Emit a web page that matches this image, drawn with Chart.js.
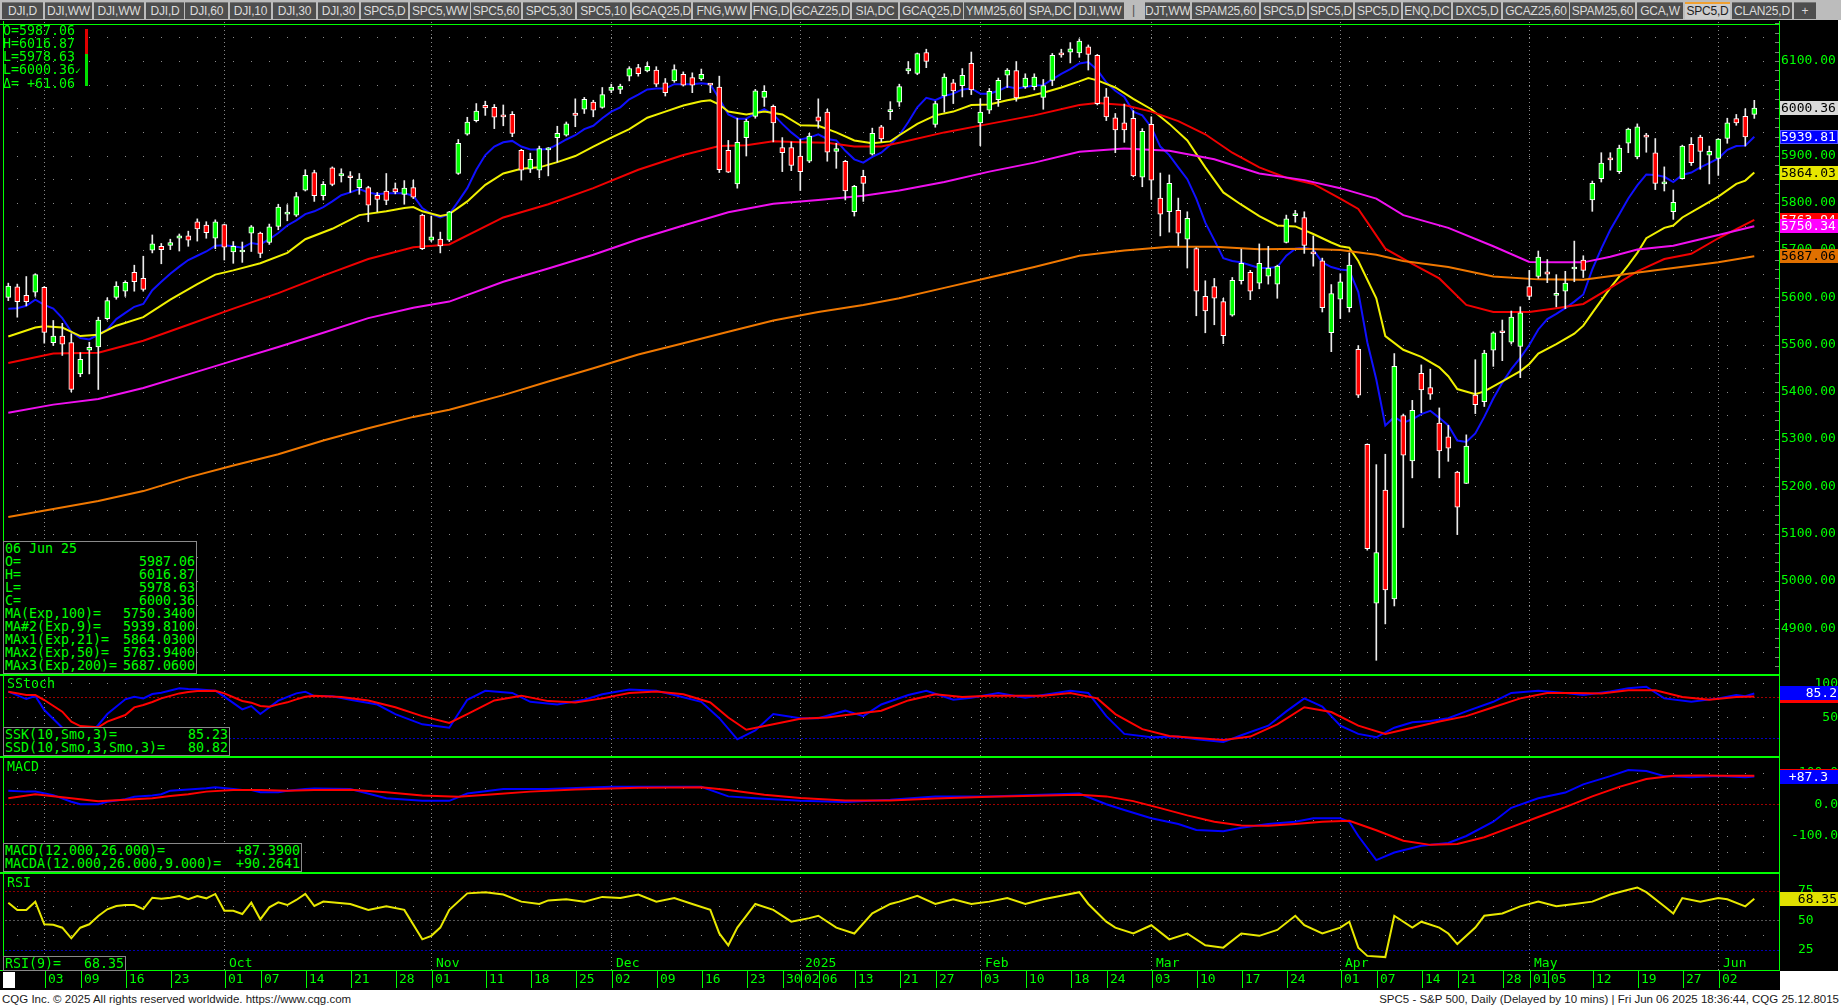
<!DOCTYPE html>
<html>
<head>
<meta charset="utf-8">
<script src="https://cdn.jsdelivr.net/npm/chart.js@4.4.1/dist/chart.umd.min.js"></script>
<style>
  html, body { margin: 0; padding: 0; }
  body { width: 1841px; height: 1008px; position: relative; background: #fff; overflow: hidden; }
  #tabbar { position: absolute; left: 0; top: 0; width: 1841px; height: 20px; background: #bcbcbc; }
  .tab { position: absolute; top: 2px; height: 17px; background: #4e4e4e; color: #dcdcdc; font: 12px "Liberation Sans", sans-serif;
         line-height: 16px; text-align: center; white-space: nowrap; overflow: hidden; border-top: 1px solid #777; box-sizing: border-box; letter-spacing: -0.2px; }
  .tab.on { background: #cdcdcd; color: #1e1e1e; border-top: 2px solid #f0a030; line-height: 15px; }
  #frame { position: absolute; left: 0; top: 20px; width: 1838px; height: 951px; background: #000; }
  #daterow { position: absolute; left: 0; top: 971px; width: 1780px; height: 19px; background: #000; }
  canvas { position: absolute; left: 0; }
  .mono { position: absolute; font-family: "DejaVu Sans Mono", monospace; font-size: 13.3px; color: #00ff00; line-height: 13px; white-space: pre; }
  .box { background: #000; border: 1px solid #8a8a8a; box-sizing: border-box; padding: 0 1px; }
  .row { display: flex; justify-content: space-between; }
  .foot { position: absolute; top: 993px; font: 11.5px "Liberation Sans", sans-serif; color: #1a1a1a; white-space: nowrap; }
</style>
</head>
<body>
<div id="tabbar"></div>
<div id="frame"></div>
<div id="daterow"></div>
<canvas id="price" width="1838" height="653" style="top:21px"></canvas>
<canvas id="stoch" width="1838" height="82" style="top:674px"></canvas>
<canvas id="macd" width="1838" height="116" style="top:756px"></canvas>
<canvas id="rsi" width="1838" height="118" style="top:872px"></canvas>

<div class="mono" id="ohlc" style="left:3px;top:24px"></div>
<div style="position:absolute;left:85px;top:29px;width:3px;height:25px;background:#e00000"></div>
<div style="position:absolute;left:85px;top:54px;width:3px;height:32px;background:#00e000"></div>
<div class="mono box" id="infoBox" style="left:3px;top:541px;width:194px;height:133px"></div>
<div class="mono" style="left:7px;top:677px">SStoch</div>
<div class="mono box" id="stochBox" style="left:3px;top:727px;width:227px;height:29px"></div>
<div class="mono" style="left:7px;top:760px">MACD</div>
<div class="mono box" id="macdBox" style="left:3px;top:843px;width:299px;height:29px"></div>
<div class="mono" style="left:7px;top:876px">RSI</div>
<div class="mono box" id="rsiBox" style="left:3px;top:956px;width:123px;height:15px"></div>

<div class="foot" style="left:2px">CQG Inc. © 2025 All rights reserved worldwide. https://www.cqg.com</div>
<div class="foot" style="right:2px">SPC5 - S&amp;P 500, Daily (Delayed by 10 mins) | Fri Jun 06 2025 18:36:44, CQG 25.12.8015</div>

<script>
// ---- bars: index 0 = 27 Aug 2024 ... 194 = 06 Jun 2025 ----
const opens = [5600,5622,5604,5611,5621,5504,5518,5504,5438,5488,5495,5555,5600,5613,5653,5640,5700,5708,5710,5725,
  5730,5760,5753,5725,5754,5696,5696,5736,5736,5716,5750,5776,5774,5827,5864,5815,5874,5857,5857,5832,
  5832,5816,5825,5830,5818,5832,5774,5721,5723,5721,5862,5945,5974,6006,6002,5984,5987,5911,5871,5869,
  5912,5938,5943,5990,5998,6013,6002,6038,6040,6068,6086,6079,6081,6054,6058,6072,6065,6062,6051,6045,
  5911,5840,5938,5983,6023,6004,5917,5917,5899,5888,5982,5992,5909,5888,5781,5856,5903,5961,5993,6013,
  6079,6074,6118,5966,6026,6054,6048,6095,5969,5996,6018,6070,6080,6045,6046,6023,6059,6115,6119,6117,
  6130,6112,6024,5980,5969,5979,5854,5966,5810,5781,5784,5723,5703,5602,5623,5591,5562,5635,5653,5630,
  5645,5628,5716,5773,5769,5693,5677,5525,5596,5578,5490,5289,4953,5192,4962,5350,5254,5439,5409,5334,
  5305,5230,5206,5393,5379,5488,5527,5505,5496,5623,5644,5654,5604,5613,5660,5679,5806,5851,5895,5866,
  5926,5897,5943,5906,5840,5781,5851,5924,5939,5901,5894,5936,5978,5983,5987.06];
const highs = [5630,5628,5644,5650,5623,5551,5545,5523,5483,5505,5558,5599,5633,5635,5668,5687,5732,5714,5723,5734,
  5740,5766,5760,5764,5755,5718,5717,5752,5738,5755,5797,5796,5822,5870,5869,5845,5876,5872,5866,5862,
  5835,5822,5862,5842,5847,5848,5776,5772,5738,5782,5934,5981,6010,6015,6008,6007,5993,5913,5905,5920,
  5917,5962,5971,6020,6023,6017,6044,6051,6051,6088,6093,6097,6088,6063,6092,6077,6075,6083,6052,6068,
  5932,5979,5977,6040,6048,6007,5938,5929,5934,5947,6020,5998,5926,5890,5837,5869,5958,5964,6014,6051,
  6099,6117,6125,6015,6073,6061,6084,6119,6020,6042,6064,6084,6099,6073,6073,6061,6116,6125,6139,6147,
  6134,6114,6042,5989,6009,5995,5957,5982,5863,5859,5810,5781,5705,5635,5640,5598,5642,5702,5657,5713,
  5708,5668,5774,5784,5781,5730,5683,5627,5650,5694,5498,5290,5246,5268,5481,5353,5382,5457,5448,5366,
  5329,5232,5309,5468,5488,5527,5552,5571,5580,5657,5698,5680,5648,5655,5719,5688,5846,5906,5906,5922,
  5958,5967,5947,5936,5876,5827,5922,5938,5943,5920,5936,5979,5987,5999,6016.87];
const lows = [5593,5558,5582,5602,5503,5498,5477,5400,5432,5438,5405,5552,5596,5602,5613,5613,5694,5671,5701,5698,
  5708,5719,5725,5703,5679,5672,5674,5697,5684,5712,5743,5762,5771,5825,5803,5806,5836,5844,5822,5818,
  5760,5781,5796,5819,5797,5809,5701,5718,5694,5718,5860,5943,5971,5985,5957,5963,5940,5848,5864,5853,
  5857,5886,5941,5961,5989,5982,6000,6033,6031,6058,6068,6077,6046,6026,6055,6047,6033,6059,6033,5864,
  5864,5831,5899,5979,6004,5929,5866,5868,5826,5885,5958,5888,5873,5806,5772,5803,5901,5929,5976,6004,
  6073,6071,6086,5960,5992,6010,6024,6029,5921,5989,6004,6044,6015,6042,6039,5998,6048,6108,6096,6108,
  6081,6007,5974,5906,5928,5855,5834,5807,5730,5738,5709,5662,5561,5525,5542,5502,5560,5628,5595,5618,
  5628,5598,5715,5759,5693,5666,5569,5485,5555,5569,5388,5065,4832,4909,4947,5113,5218,5356,5384,5218,
  5253,5098,5206,5354,5369,5454,5466,5501,5430,5595,5640,5631,5580,5576,5633,5642,5782,5844,5869,5862,
  5906,5893,5907,5828,5825,5765,5850,5879,5871,5840,5858,5926,5964,5920,5978.63];
const closes = [5624,5591,5591,5648,5526,5518,5501,5405,5469,5494,5552,5593,5624,5632,5633,5617,5713,5701,5716,5730,
  5721,5745,5737,5760,5706,5708,5698,5749,5693,5749,5791,5778,5813,5858,5815,5839,5839,5862,5853,5850,
  5795,5807,5805,5823,5831,5812,5703,5728,5709,5781,5926,5971,5994,6001,5981,5982,5947,5869,5892,5915,
  5915,5947,5967,5985,6019,5996,6029,6045,6047,6084,6073,6089,6051,6033,6082,6049,6049,6072,6049,5870,
  5865,5928,5973,6037,6036,5969,5906,5879,5866,5941,5973,5907,5915,5825,5835,5841,5947,5935,5995,6046,
  6084,6116,6099,6010,6066,6037,6070,6039,5992,6036,6059,6081,6022,6064,6066,6048,6112,6113,6126,6142,
  6114,6010,5982,5954,5954,5857,5951,5848,5776,5841,5736,5767,5613,5571,5598,5519,5636,5672,5613,5672,
  5662,5666,5766,5774,5710,5692,5578,5608,5633,5668,5393,5068,5060,4981,5454,5266,5361,5404,5395,5275,
  5281,5156,5285,5373,5482,5525,5525,5558,5567,5602,5685,5649,5605,5630,5662,5657,5841,5884,5891,5916,
  5956,5961,5939,5841,5841,5801,5920,5885,5909,5909,5935,5969,5969,5939.3,6000.36];

// ---- moving averages ----
const ema9 = [5576,5577,5582,5595,5584,5576,5556,5527,5514,5511,5521,5532,5554,5567,5580,5586,5615,5633,5650,5665,
  5679,5688,5697,5709,5710,5708,5705,5715,5712,5723,5736,5752,5763,5776,5782,5791,5803,5816,5822,5829,
  5822,5818,5820,5820,5820,5815,5789,5776,5769,5776,5803,5831,5870,5901,5919,5928,5931,5919,5913,5913,
  5914,5923,5934,5943,5956,5963,5979,5993,6002,6019,6029,6040,6042,6042,6051,6051,6051,6053,6051,6020,
  5987,5978,5978,5989,5998,5987,5967,5949,5934,5938,5945,5935,5932,5910,5892,5885,5897,5906,5923,5943,
  5971,6002,6022,6017,6026,6031,6040,6042,6031,6031,6037,6046,6042,6045,6048,6049,6061,6073,6083,6095,
  6098,6081,6055,6037,6024,5993,5985,5960,5919,5901,5875,5850,5809,5758,5721,5683,5677,5674,5668,5662,
  5662,5664,5688,5703,5705,5701,5674,5664,5659,5657,5611,5505,5426,5329,5347,5335,5342,5353,5360,5345,
  5329,5297,5294,5312,5347,5386,5419,5448,5472,5499,5532,5554,5565,5577,5591,5606,5659,5703,5743,5776,
  5809,5837,5860,5859,5855,5844,5859,5864,5875,5884,5894,5912,5920,5921,5939.81];
const ema21Idx = [0,3,4,6,8,10,12,15,18,21,23,25,28,31,33,36,39,42,44,45,46,48,49,51,53,55,57,59,61,63,65,67,69,71,73,75,77,78,79,80,
  82,84,86,88,90,92,94,96,98,99,101,103,105,107,109,111,113,115,117,119,120,121,123,125,127,129,131,133,135,137,139,141,143,145,147,148,
  149,150,152,153,155,157,159,160,161,163,164,166,168,169,170,172,174,175,176,178,180,181,182,184,185,186,188,190,192,193,194];
const ema21 = [5517,5536,5539,5536,5518,5521,5540,5558,5595,5628,5648,5657,5672,5694,5723,5745,5774,5782,5789,5791,5782,5772,5776,5803,5838,5862,5872,5875,5886,5899,5919,5938,5956,5980,5993,6006,6015,6017,6008,5993,
  5987,5993,5987,5964,5963,5949,5932,5926,5930,5943,5967,5985,5993,6007,6008,6017,6024,6033,6044,6057,6064,6059,6044,6020,5998,5967,5932,5875,5822,5796,5772,5752,5750,5734,5716,5708,
  5705,5677,5598,5518,5489,5474,5452,5433,5406,5395,5401,5422,5444,5459,5481,5501,5523,5540,5567,5620,5668,5694,5725,5747,5752,5769,5791,5813,5840,5847,5864.03];
const ema50Idx = [0,5,10,15,20,25,30,35,40,45,49,55,60,65,70,75,79,82,85,88,91,94,97,99,104,109,114,119,121,124,127,130,133,136,139,142,145,148,
  150,153,156,159,162,165,169,172,175,178,181,184,187,190,194];
const ema50 = [5461,5481,5483,5508,5542,5576,5609,5646,5681,5706,5712,5769,5797,5831,5870,5901,5920,5922,5930,5928,5927,5919,5919,5927,5949,5967,5985,6007,6011,6007,5993,5973,5945,5906,5875,5853,5840,5809,
  5787,5703,5671,5640,5584,5569,5569,5577,5586,5620,5655,5681,5692,5725,5763.94];
const ema100Idx = [0,5,10,15,20,25,30,35,40,45,49,55,60,65,70,75,80,85,90,95,99,104,109,114,119,124,129,134,139,144,148,152,155,160,165,169,172,175,178,181,185,190,194];
const ema100 = [5356,5373,5385,5408,5437,5466,5495,5525,5556,5578,5591,5633,5661,5690,5723,5752,5780,5798,5806,5815,5826,5844,5866,5885,5908,5915,5910,5892,5862,5848,5831,5809,5774,5747,5708,5675,5674,5674,5686,5701,5709,5732,5750.34];
const ema200Idx = [0,5,10,15,20,25,30,35,40,45,49,55,60,65,70,75,80,85,90,95,99,104,109,114,119,124,129,134,139,144,148,152,155,160,165,170,175,180,185,190,194];
const ema200 = [5135,5152,5169,5190,5219,5244,5268,5297,5323,5347,5362,5393,5422,5450,5479,5503,5527,5551,5569,5584,5598,5620,5642,5664,5688,5699,5707,5707,5702,5703,5700,5690,5677,5664,5644,5638,5637,5650,5662,5674,5687.06];

// ---- slow stochastic ----
const stochKIdx = [0,2,3,4,6,7,8,9,10,11,13,14,15,16,17,19,20,21,23,24,26,27,28,30,32,33,34,36,38,41,43,46,49,51,53,56,58,61,64,66,
  69,72,74,77,79,81,83,85,88,90,93,95,97,100,102,105,107,110,113,115,118,120,122,124,127,130,132,135,137,140,142,144,146,148,150,152,154,156,158,160,
  162,165,167,170,173,175,178,180,182,184,187,190,192,193,194];
const stochK = [87.8,77,81.4,60.9,35,22,18,25,39,55,76.6,80.5,78,84.4,86.3,92.7,91.7,91.2,89.2,80.5,61.9,66.8,55.1,74.6,85.3,87.8,81.4,81,76,69,55,40,35,76,89,86,73,69,76,84,
  91,89,83,73,49,18,31,55,49,49,60,52,69,83,89,76,79,86,79,83,89,86,52,26,21,22,18,14,24,38,59,78,66,38,26,21,35,43,45,49,
  59,73,86,89,86,83,88,93,95,78,73,78,83,81,85.23];
const stochDIdx = [0,2,3,4,6,7,8,10,11,13,14,15,16,17,19,20,21,23,24,26,27,28,29,30,31,32,33,34,37,40,43,46,49,51,54,57,60,63,66,69,
  72,75,78,80,82,85,88,91,94,97,100,103,106,109,112,115,118,121,123,126,129,132,135,138,141,144,147,150,153,156,159,162,165,168,171,174,177,180,183,186,
  189,192,194];
const stochD = [87.8,82.9,82.9,75.6,58.5,43.9,37.5,35.6,43.9,53.6,64.8,68.3,72.7,78,85.3,87.3,88.8,89.2,85.3,74.1,71.7,66.8,65.8,69.2,72.2,76.6,80.5,81.9,80,75,65,52,42,55,75,82,74,72,78,86,
  88,84,72,50,32,40,48,50,55,60,75,84,80,82,82,82,86,78,55,33,23,20,17,22,40,65,58,38,26,35,44,52,65,78,86,86,85,90,90,80,
  76,80,80.82];

// ---- MACD ----
const macdIdx = [0,2,3,5,7,8,10,11,13,14,16,17,18,20,22,23,25,26,27,28,30,31,33,34,38,42,46,49,51,55,60,67,72,77,80,83,88,93,98,103,
  109,114,119,122,124,127,130,132,135,137,140,143,145,148,149,150,152,154,157,160,162,165,167,170,173,175,178,180,182,184,187,190,193,194];
const macd = [43,40,40,29,8,0,0,8,16,24,28,32,43,47,51,54,48,45,45,38,38,43,48,50,48,19,11,11,34,48,48,55,55,55,25,19,11,7,14,25,
  25,29,34,0,-18,-44,-62,-81,-85,-74,-62,-55,-44,-44,-55,-100,-176,-152,-131,-122,-100,-55,-11,19,37,63,89,108,105,89,85,89,85,87.39];
const signalIdx = [0,3,7,10,13,16,18,20,22,25,28,31,34,38,42,46,50,54,58,63,70,77,80,84,88,93,98,103,109,114,119,122,125,128,131,134,137,140,143,146,
  149,152,155,158,161,164,167,170,173,176,179,182,185,188,191,194];
const signal = [19,32,19,10,14,19,26,32,40,45,45,43,45,46,38,28,24,32,40,47,52,54,45,30,20,12,12,18,24,27,30,25,10,-12,-35,-55,-67,-68,-62,-55,
  -52,-82,-115,-128,-125,-104,-72,-40,-9,25,55,80,90,90.5,89.8,90.2641];

// ---- RSI(9) ----
const rsiIdx = [0,1,2,3,4,5,6,7,8,9,10,11,12,13,14,15,16,17,18,19,20,21,22,23,24,25,26,27,28,29,30,31,32,33,34,35,
  38,40,42,44,46,47,48,49,51,53,55,57,59,60,62,64,66,68,70,72,74,76,78,79,80,81,83,85,87,89,90,92,94,96,98,99,101,103,105,107,
  109,111,113,115,117,119,120,122,123,125,127,129,131,133,135,137,139,141,143,144,146,148,149,150,151,153,154,156,157,159,
  160,161,163,164,166,168,170,172,174,176,178,180,181,182,184,185,186,188,190,191,193,194];
const rsi = [65.1,58.9,58.9,65.9,46.8,46.3,43.9,34.9,43.9,46.8,53.8,59.5,62.3,63.1,63.1,59.7,69.3,68.5,69.3,70.8,68,70.8,68.8,72.5,58.3,58.3,55.5,65.1,51,61.2,65.4,63.1,67.4,72.5,62.3,66,
  64,59,62,59,34,37,44,59,73,74,72,66,64,67,68,66,70,69,72,66,69,64,59,39,29,44,64,59,49,52,54,44,39,56,64,66,71,64,68,64,
  66,69,64,68,71,74,64,49,44,39,46,34,39,29,27,39,37,42,54,46,39,44,49,27,20,19,54,44,49,44,
  39,30,44,54,56,62,66,62,64,66,72,76,78,74,62,56,69,66,69,68,62,68.35];

// ---- time axis ----
const tickIdx = [4,8,13,18,24,28,33,38,43,47,53,58,63,67,72,77,82,86,88,90,94,99,103,108,113,118,122,127,132,137,142,148,152,157,161,166,169,171,176,181,186,190];
const tickLabels = ["03","09","16","23","01","07","14","21","28","01","11","18","25","02","09","16","23","30","02","06","13","21","27","03","10","18","24","03","10","17","24","01","07","14","21","28","01","05","12","19","27","02"];
const monthIdx = [4,24,47,67,88,108,127,148,169,190];
const monthLabels = ["Sep","Oct","Nov","Dec","2025","Feb","Mar","Apr","May","Jun"];

const priceTicks = [4900,5000,5100,5200,5300,5400,5500,5600,5700,5800,5900,6000,6100];
const priceRows = [4850,4900,4950,5000,5050,5100,5150,5200,5250,5300,5350,5400,5450,5500,5550,5600,5650,5700,5750,5800,5850,5900,5950,6000,6050,6100,6150];

const tabs = [["DJI,D",2,43],["DJI,WW",45,92],["DJI,WW",94,144],["DJI,D",146,184],["DJI,60",185,228],["DJI,10",230,271],["DJI,30",273,316],
  ["DJI,30",318,359],["SPC5,D",361,408],["SPC5,WW",410,470],["SPC5,60",471,521],["SPC5,30",523,575],["SPC5,10",577,630],["GCAQ25,D",632,691],
  ["FNG,WW",693,750],["FNG,D",752,790],["GCAZ25,D",792,850],["SIA,DC",852,898],["GCAQ25,D",900,963],["YMM25,60",964,1024],["SPA,DC",1026,1074],
  ["DJI,WW",1076,1124],["DJT,WW",1145,1190],["SPAM25,60",1192,1259],["SPC5,D",1261,1307],["SPC5,D",1309,1353],["SPC5,D",1355,1401],
  ["ENQ,DC",1403,1451],["DXC5,D",1453,1501],["GCAZ25,60",1503,1569],["SPAM25,60",1570,1635],["GCA,W",1637,1683],["SPC5,D",1685,1730,1],
  ["CLAN25,D",1732,1792],["+",1794,1816]];

const MONO = '"DejaVu Sans Mono", monospace';
const GREEN = '#00ff00';
const X_MIN = -0.367, X_MAX = 196.744;

const seq = vals => vals.map((v, j) => ({x: j, y: v}));
const pts = (idx, vals) => idx.map((j, k) => ({x: j, y: vals[k]}));
const last = a => a[a.length - 1];
const trunc1 = v => (Math.floor(v * 10) / 10).toFixed(1);   // CQG cuts, it does not round

// tab strip
const bar = document.getElementById('tabbar');
tabs.forEach(([t, a, b, on]) => {
  const d = document.createElement('div');
  d.className = 'tab' + (on ? ' on' : '');
  d.style.left = a + 'px'; d.style.width = (b - a) + 'px';
  d.textContent = t;
  bar.appendChild(d);
});
const sep = document.createElement('div');
sep.style.cssText = 'position:absolute;left:1132px;top:3px;color:#4e4e4e;font:12px "Liberation Sans";';
sep.textContent = '|';
bar.appendChild(sep);

// grid, levels, borders, value boxes and the date row
const cqgPlugin = {
  id: 'cqg',
  beforeDatasetsDraw(chart, args, o) {
    const {ctx, chartArea: a, scales: {x, y}} = chart;
    ctx.save();
    ctx.beginPath(); ctx.rect(a.left, a.top, a.right - a.left, a.bottom - a.top); ctx.clip();
    ctx.fillStyle = '#8a8a8a';
    for (const v of o.rows || []) {
      const py = Math.round(y.getPixelForValue(v));
      for (let j = 1; j <= 196; j += 2) ctx.fillRect(Math.round(x.getPixelForValue(j)), py, 1, 1);
    }
    for (const j of monthIdx) {
      const px = Math.round(x.getPixelForValue(j));
      for (let py = a.top + 1; py < a.bottom; py += 4) ctx.fillRect(px, py, 1, 1);
    }
    ctx.setLineDash([2, 2]);
    ctx.lineWidth = 1;
    for (const L of o.levels || []) {
      const py = Math.round(y.getPixelForValue(L.v)) + 0.5;
      ctx.strokeStyle = L.color;
      ctx.beginPath(); ctx.moveTo(a.left, py); ctx.lineTo(a.right, py); ctx.stroke();
    }
    ctx.restore();
  },
  afterDraw(chart, args, o) {
    const {ctx, chartArea: a, scales: {x, y}} = chart;
    ctx.save();
    ctx.fillStyle = GREEN;
    ctx.fillRect(a.right, 0, 1, a.bottom);
    ctx.fillRect(3, 0, 1, a.bottom);
    if (o.topLine) ctx.fillRect(0, o.topLine[0], a.right, o.topLine[1]);
    if (o.minor) {
      ctx.fillStyle = '#7a7a7a';
      for (let v = o.minor[0]; v <= o.minor[1]; v += o.minor[2]) {
        ctx.fillRect(a.right - 4, Math.round(y.getPixelForValue(v)), 4, 1);
      }
    }
    ctx.font = '13px ' + MONO;
    ctx.textBaseline = 'middle';
    for (const b of o.boxes || []) {
      const py = Math.round(y.getPixelForValue(b.v));
      ctx.fillStyle = b.bg;
      ctx.fillRect(a.right + 1, py - 7, 58, 14);
      if (b.edge) { ctx.strokeStyle = b.edge; ctx.lineWidth = 1; ctx.strokeRect(a.right + 1.5, py - 6.5, 57, 13); }
      if (b.text) {
        ctx.fillStyle = b.fg;
        ctx.textAlign = b.right ? 'right' : 'left';
        ctx.fillText(b.text, b.right ? a.right + b.right : a.right + 2, py + 1);
      }
    }
    if (o.dateAxis) {
      const yb = a.bottom;
      ctx.fillStyle = GREEN;
      ctx.fillRect(0, yb, a.right + 1, 1);
      ctx.textAlign = 'left';
      tickIdx.forEach((j, k) => {
        const px = Math.round(x.getPixelForValue(j)) + 1;
        ctx.fillRect(px, yb, 1, 18);
        ctx.fillText(tickLabels[k], px + 3, yb + 10);
      });
      monthIdx.forEach((j, k) => {
        const px = Math.round(x.getPixelForValue(j));
        ctx.fillText(monthLabels[k], px + 5, yb - 6);
      });
      ctx.fillStyle = '#fff';
      ctx.fillRect(3, yb + 2, 12, 16);
    }
    ctx.restore();
  }
};

function yAxis(min, max, ticks, fmt, align, pad) {
  return {
    type: 'linear', position: 'right', min, max,
    afterBuildTicks: s => { s.ticks = ticks.map(v => ({value: v})); },
    // fixed axis width, and no extra vertical room reserved for the labels
    afterFit: s => { s.width = 59; s.paddingTop = 0; s.paddingBottom = 0; },
    grid: {display: false, drawTicks: false},
    border: {display: false},
    ticks: {color: GREEN, font: {family: MONO, size: 13}, padding: pad, crossAlign: align, callback: v => fmt(v)}
  };
}

function makeChart(id, datasets, yOpts, cqg, padBottom) {
  return new Chart(document.getElementById(id), {
    type: 'line',
    data: {datasets},
    options: {
      responsive: false, animation: false, events: [], devicePixelRatio: 1,
      layout: {autoPadding: false, padding: {left: 5, right: 0, top: 0, bottom: padBottom || 0}},
      scales: {x: {type: 'linear', min: X_MIN, max: X_MAX, display: false, offset: false}, y: yOpts},
      plugins: {legend: {display: false}, tooltip: {enabled: false}, cqg}
    },
    plugins: [cqgPlugin]
  });
}

const line = (data, color, w) => ({type: 'line', data, borderColor: color, borderWidth: w || 2, pointRadius: 0, tension: 0, order: 2});

// price pane
const bodyColors = closes.map((c, j) => c >= opens[j] ? '#00ff00' : '#ff0000');
makeChart('price', [
  {type: 'bar', data: opens.map((o, j) => ({x: j, y: [o, closes[j]]})), backgroundColor: bodyColors, borderColor: '#ffffff',
   borderWidth: 1, borderSkipped: false, barThickness: 5, minBarLength: 2, grouped: false, order: 0},
  {type: 'bar', data: lows.map((l, j) => ({x: j, y: [l, highs[j]]})), backgroundColor: '#ececec', borderWidth: 0,
   barThickness: 1, grouped: false, order: 1},
  line(pts(ema200Idx, ema200), '#f07800'),
  line(pts(ema100Idx, ema100), '#f010f0'),
  line(pts(ema50Idx, ema50), '#f00000'),
  line(pts(ema21Idx, ema21), '#f0f000'),
  line(seq(ema9), '#1010ff')
], yAxis(4803, 6184.7, priceTicks, v => v.toFixed(2), 'near', 2), {
  rows: priceRows, topLine: [3, 1], minor: [4820, 6180, 20],
  boxes: [
    {v: last(ema200), bg: '#e07000', fg: '#000', text: last(ema200).toFixed(2)},
    {v: last(ema50), bg: '#ff0000', fg: '#fff', text: last(ema50).toFixed(2)},
    {v: last(ema100), bg: '#ff00ff', fg: '#fff', text: last(ema100).toFixed(2)},
    {v: last(ema21), bg: '#e6e600', fg: '#000', text: last(ema21).toFixed(2)},
    {v: last(ema9), bg: '#0000ff', fg: '#fff', edge: '#5a5aff', text: last(ema9).toFixed(2)},
    {v: last(closes), bg: '#d9d9d9', fg: '#000', text: last(closes).toFixed(2)}
  ]
});

// slow stochastic pane
makeChart('stoch', [
  line(pts(stochDIdx, stochD), '#ff0000'),
  line(pts(stochKIdx, stochK), '#0000ff')
], yAxis(-6.4, 113.7, [100, 50], v => String(v), 'far', 17.5), {
  rows: [100, 50], topLine: [0, 2],
  levels: [{v: 80, color: '#a00000'}, {v: 20, color: '#0000c8'}],
  boxes: [
    {v: last(stochD), bg: '#ff0000'},
    {v: last(stochK), bg: '#0000ff', fg: '#fff', text: trunc1(last(stochK)), right: 58}
  ]
});

// MACD pane
makeChart('macd', [
  line(pts(signalIdx, signal), '#ff0000'),
  line(pts(macdIdx, macd), '#0000ff')
], yAxis(-213.6, 152.4, [100, 0, -100], v => v.toFixed(1), 'far', 2), {
  rows: [100, 50, -50, -100, -150], topLine: [0, 2],
  levels: [{v: 0, color: '#a00000'}],
  boxes: [
    {v: last(signal), bg: '#ff0000'},
    {v: last(macd), bg: '#0000ff', fg: '#fff', text: '+' + trunc1(last(macd)), right: 49}
  ]
});

// RSI pane with the date row below it
makeChart('rsi', [
  line(pts(rsiIdx, rsi), '#e8e800')
], yAxis(8.05, 91.1, [75, 50, 25], v => String(v), 'near', 19), {
  rows: [62.5, 37.5], topLine: [0, 2], dateAxis: true,
  levels: [{v: 75, color: '#900000'}, {v: 50, color: '#555555'}, {v: 25, color: '#0000b4'}],
  boxes: [{v: last(rsi), bg: '#e0e000', fg: '#000', text: last(rsi).toFixed(2), right: 58}]
}, 20);

// text panels
const n = closes.length - 1;
const delta = closes[n] - closes[n - 1];
document.getElementById('ohlc').innerHTML =
  'O=' + opens[n].toFixed(2) + '\nH=' + highs[n].toFixed(2) + '\nL=' + lows[n].toFixed(2) +
  '\nL=' + closes[n].toFixed(2) + '<span style="font-size:10px">✓</span>\nΔ= ' + (delta >= 0 ? '+' : '') + delta.toFixed(2);

const rows = (list) => list.map(([l, v]) => '<div class="row"><span>' + l + '</span><span>' + v + '</span></div>').join('');
document.getElementById('infoBox').innerHTML = rows([
  ['06 Jun 25', ''], ['O=', opens[n].toFixed(2)], ['H=', highs[n].toFixed(2)], ['L=', lows[n].toFixed(2)], ['C=', closes[n].toFixed(2)],
  ['MA(Exp,100)=', last(ema100).toFixed(4)], ['MA#2(Exp,9)=', last(ema9).toFixed(4)], ['MAx1(Exp,21)=', last(ema21).toFixed(4)],
  ['MAx2(Exp,50)=', last(ema50).toFixed(4)], ['MAx3(Exp,200)=', last(ema200).toFixed(4)]
]);
document.getElementById('stochBox').innerHTML = rows([['SSK(10,Smo,3)=', last(stochK).toFixed(2)], ['SSD(10,Smo,3,Smo,3)=', last(stochD).toFixed(2)]]);
document.getElementById('macdBox').innerHTML = rows([['MACD(12.000,26.000)=', '+' + last(macd).toFixed(4)], ['MACDA(12.000,26.000,9.000)=', '+' + last(signal).toFixed(4)]]);
document.getElementById('rsiBox').innerHTML = rows([['RSI(9)=', last(rsi).toFixed(2)]]);
</script>
</body>
</html>
